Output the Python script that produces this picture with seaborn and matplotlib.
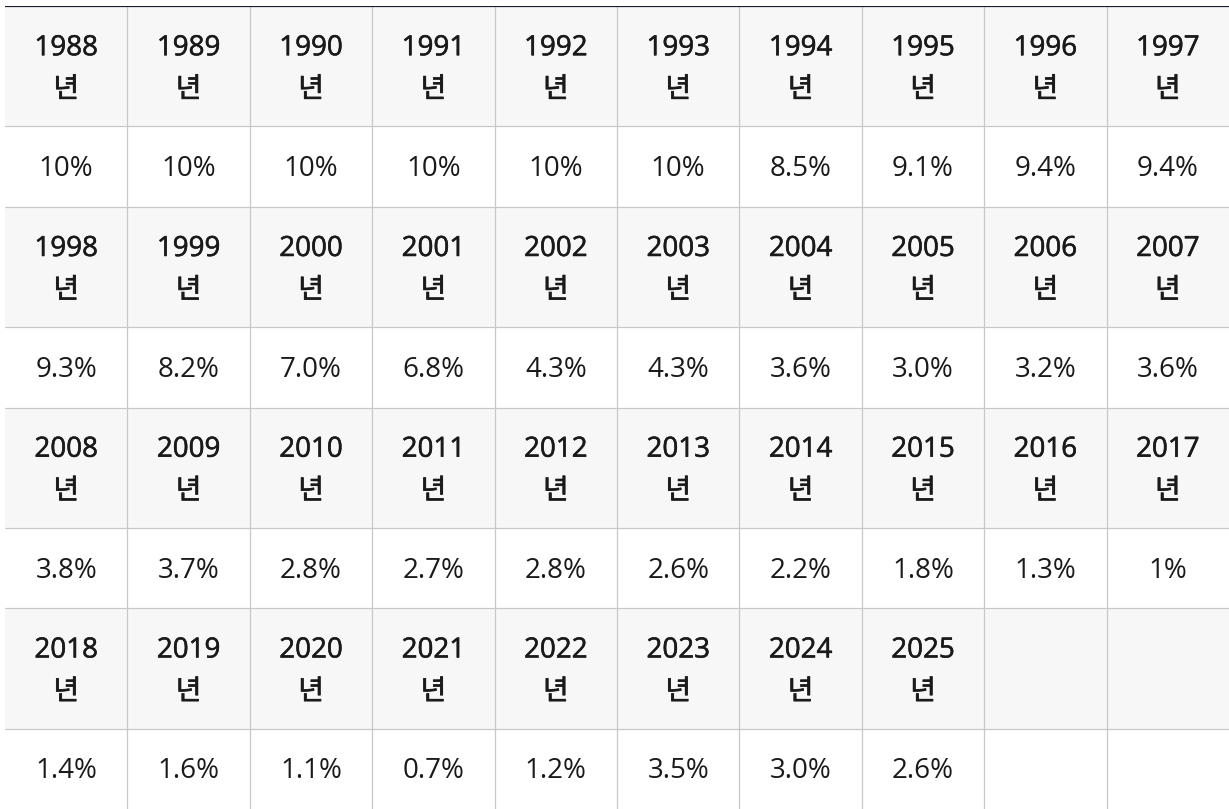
import numpy as np
import pandas as pd
import seaborn as sns
import matplotlib
matplotlib.use("Agg")
import matplotlib.pyplot as plt
import matplotlib.patheffects as pe
from matplotlib.colors import ListedColormap

# ---- data ----
years = ["1988", "1989", "1990", "1991", "1992", "1993", "1994", "1995", "1996", "1997",
         "1998", "1999", "2000", "2001", "2002", "2003", "2004", "2005", "2006", "2007",
         "2008", "2009", "2010", "2011", "2012", "2013", "2014", "2015", "2016", "2017",
         "2018", "2019", "2020", "2021", "2022", "2023", "2024", "2025"]
rates = ["10%", "10%", "10%", "10%", "10%", "10%", "8.5%", "9.1%", "9.4%", "9.4%",
         "9.3%", "8.2%", "7.0%", "6.8%", "4.3%", "4.3%", "3.6%", "3.0%", "3.2%", "3.6%",
         "3.8%", "3.7%", "2.8%", "2.7%", "2.8%", "2.6%", "2.2%", "1.8%", "1.3%", "1%",
         "1.4%", "1.6%", "1.1%", "0.7%", "1.2%", "3.5%", "3.0%", "2.6%"]
year_suffix = "년"

n_cols = 10
n_blocks = 4
header_units = 3
value_units = 2
block_units = header_units + value_units

# background matrix (1 = header row shade, 0 = value row)
bg_rows = []
for b in range(n_blocks):
    bg_rows += [[1] * n_cols] * header_units
    bg_rows += [[0] * n_cols] * value_units
bg = pd.DataFrame(np.array(bg_rows, dtype=float))

sns.set_theme(style="white")
plt.rcParams["font.family"] = ["Open Sans", "Noto Sans CJK KR", "DejaVu Sans"]

W, H = 1229, 809
fig = plt.figure(figsize=(W / 100, H / 100), dpi=100)
fig.patch.set_facecolor("white")
ax = fig.add_axes([5 / W, 0, 1 - 5 / W, 803 / H])

sns.heatmap(bg, cmap=ListedColormap(["#ffffff", "#f7f7f7"]), vmin=0, vmax=1,
            cbar=False, ax=ax, xticklabels=False, yticklabels=False, linewidths=0)

grid_c = "#c8c8c8"
lw = 0.9
for b in range(n_blocks):
    y0 = b * block_units
    ax.axhline(y0 + header_units, color=grid_c, lw=lw, zorder=3)
    if b > 0:
        ax.axhline(y0, color=grid_c, lw=lw, zorder=3)
for c in range(1, n_cols):
    ax.axvline(c, color=grid_c, lw=lw, zorder=3)
ax.axhline(0, color="#1a1d30", lw=1.6, zorder=4)

for s in ax.spines.values():
    s.set_visible(False)

txt_c = "#1a1a1a"
fs = 20
unit_px = 803 / 20
off = 20.5 / unit_px
dy = 2.5 / unit_px
yr_fx = [pe.withStroke(linewidth=0.4, foreground=txt_c)]
kr_fx = [pe.withStroke(linewidth=0.5, foreground=txt_c)]
for i, (yr, rt) in enumerate(zip(years, rates)):
    b, c = divmod(i, n_cols)
    y0 = b * block_units
    xc = c + 0.5
    hc = y0 + header_units / 2 + dy
    ax.text(xc, hc - off, yr, ha="center", va="center", fontsize=fs,
            fontweight="normal", color=txt_c, zorder=5, path_effects=yr_fx)
    ax.text(xc, hc + off, year_suffix, ha="center", va="center", fontsize=fs,
            fontweight="normal", color=txt_c, zorder=5,
            family=["Noto Sans CJK KR", "Open Sans"], path_effects=kr_fx)
    ax.text(xc, y0 + header_units + value_units / 2 + dy, rt, ha="center", va="center",
            fontsize=fs, fontweight="normal", color=txt_c, zorder=5)

fig.savefig("out.png", dpi=100, facecolor="white")
